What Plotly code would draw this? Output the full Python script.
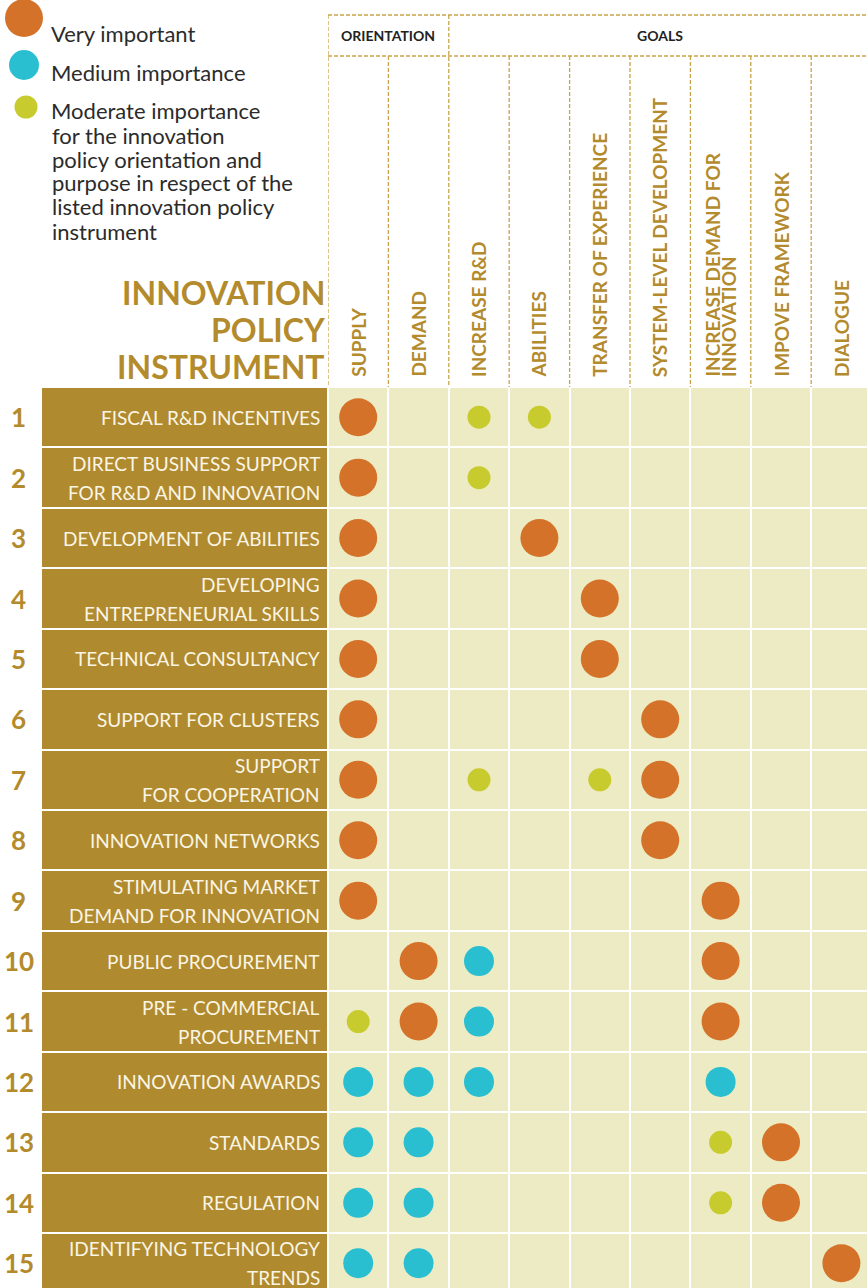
import plotly.graph_objects as go

# ---------------- data ----------------
instruments = [
    "FISCAL R&D INCENTIVES",
    "DIRECT BUSINESS SUPPORT\nFOR R&D AND INNOVATION",
    "DEVELOPMENT OF ABILITIES",
    "DEVELOPING\nENTREPRENEURIAL SKILLS",
    "TECHNICAL CONSULTANCY",
    "SUPPORT FOR CLUSTERS",
    "SUPPORT\nFOR COOPERATION",
    "INNOVATION NETWORKS",
    "STIMULATING MARKET\nDEMAND FOR INNOVATION",
    "PUBLIC PROCUREMENT",
    "PRE - COMMERCIAL\nPROCUREMENT",
    "INNOVATION AWARDS",
    "STANDARDS",
    "REGULATION",
    "IDENTIFYING TECHNOLOGY\nTRENDS",
]
columns = [
    "SUPPLY", "DEMAND", "INCREASE R&D", "ABILITIES", "TRANSFER OF EXPERIENCE",
    "SYSTEM-LEVEL DEVELOPMENT", "INCREASE DEMAND FOR\nINNOVATION",
    "IMPOVE FRAMEWORK", "DIALOGUE",
]
groups = ["ORIENTATION", "GOALS"]
# 3 = very important, 2 = medium importance, 1 = moderate importance, 0 = none
importance = [
    [3, 0, 1, 1, 0, 0, 0, 0, 0],
    [3, 0, 1, 0, 0, 0, 0, 0, 0],
    [3, 0, 0, 3, 0, 0, 0, 0, 0],
    [3, 0, 0, 0, 3, 0, 0, 0, 0],
    [3, 0, 0, 0, 3, 0, 0, 0, 0],
    [3, 0, 0, 0, 0, 3, 0, 0, 0],
    [3, 0, 1, 0, 1, 3, 0, 0, 0],
    [3, 0, 0, 0, 0, 3, 0, 0, 0],
    [3, 0, 0, 0, 0, 0, 3, 0, 0],
    [0, 3, 2, 0, 0, 0, 3, 0, 0],
    [1, 3, 2, 0, 0, 0, 3, 0, 0],
    [2, 2, 2, 0, 0, 0, 2, 0, 0],
    [2, 2, 0, 0, 0, 0, 1, 3, 0],
    [2, 2, 0, 0, 0, 0, 1, 3, 0],
    [2, 2, 0, 0, 0, 0, 0, 0, 3],
]
legend_labels = {
    3: ["Very important"],
    2: ["Medium importance"],
    1: ["Moderate importance", "for the innovation", "policy orientation and",
        "purpose in respect of the", "listed innovation policy", "instrument"],
}
title_lines = ["INNOVATION", "POLICY", "INSTRUMENT"]

# ---------------- styles ----------------
W, H = 867, 1288
ORANGE, CYAN, LIME = "#D4722A", "#29BFD1", "#C8CB2E"
BROWN, GOLD, CREAM = "#B08A2E", "#B38B2D", "#EDEBC3"
DASHC = "#C9A44A"
level_color = {3: ORANGE, 2: CYAN, 1: LIME}
level_size = {3: 38, 2: 30, 1: 23}
FONT = "Lato, 'Open Sans', sans-serif"

GRID_LEFT, COL_W = 328, 60.4
ROW_TOP, ROW_H = 387, 60.43
HEAD_TOP, HEAD_MID = 15, 56


def fx(p):
    return p / W


def fy(p):
    return 1 - p / H


nrows, ncols = len(instruments), len(columns)
rows = list(range(nrows))
cols = list(range(ncols))

fig = go.Figure()

# cream grid cells
fig.add_trace(go.Heatmap(
    x=cols, y=rows, z=[[1] * ncols for _ in rows],
    colorscale=[[0, CREAM], [1, CREAM]], showscale=False,
    xgap=2, ygap=2, hoverinfo="skip", xaxis="x", yaxis="y"))

# brown label panel
fig.add_trace(go.Heatmap(
    x=[0.5], y=rows, z=[[1] for _ in rows],
    colorscale=[[0, BROWN], [1, BROWN]], showscale=False,
    xgap=0, ygap=2, hoverinfo="skip", xaxis="x2", yaxis="y"))

# importance dots
for lvl in (3, 2, 1):
    xs, ys = [], []
    for r in rows:
        for c in cols:
            if importance[r][c] == lvl:
                xs.append(c)
                ys.append(r)
    fig.add_trace(go.Scatter(
        x=xs, y=ys, mode="markers", xaxis="x", yaxis="y",
        marker=dict(size=level_size[lvl], color=level_color[lvl], line=dict(width=0)),
        hoverinfo="skip", showlegend=False))

annotations = []
shapes = []

# row numbers and labels
for r in rows:
    annotations.append(dict(
        x=fx(18.5), y=r, xref="paper", yref="y", text=f"<b>{r + 1}</b>",
        showarrow=False, xanchor="center", yanchor="middle",
        font=dict(family=FONT, size=26, color=GOLD)))
    lines = instruments[r].split("\n")
    shifts = [0] if len(lines) == 1 else [14.5, -14.5]
    for ln, sh in zip(lines, shifts):
        annotations.append(dict(
            x=fx(321.5), y=r, xref="paper", yref="y", text=ln, yshift=sh,
            showarrow=False, xanchor="right", yanchor="middle",
            font=dict(family=FONT, size=19, color="#FAF5E4")))

# column headers (vertical)
for c in cols:
    lines = columns[c].split("\n")
    shifts = [0] if len(lines) == 1 else [-8, 8]
    for ln, sh in zip(lines, shifts):
        annotations.append(dict(
            x=c, y=fy(379), xref="x", yref="paper", text=ln, xshift=sh,
            textangle=-90, showarrow=False, xanchor="center", yanchor="bottom",
            font=dict(family=FONT, size=19, color=GOLD, weight="bold")))

# group headers
annotations.append(dict(
    x=0.5, y=fy(35), xref="x", yref="paper", text=f"<b>{groups[0]}</b>",
    showarrow=False, xanchor="center", yanchor="middle",
    font=dict(family=FONT, size=14, color="#222222")))
annotations.append(dict(
    x=5, y=fy(35), xref="x", yref="paper", text=f"<b>{groups[1]}</b>",
    showarrow=False, xanchor="center", yanchor="middle",
    font=dict(family=FONT, size=14, color="#222222")))

# title
for i, t in enumerate(title_lines):
    annotations.append(dict(
        x=fx(327), y=fy(292 + 37 * i), xref="paper", yref="paper",
        text=f"<b>{t}</b>", showarrow=False, xanchor="right", yanchor="middle",
        font=dict(family=FONT, size=32, color=GOLD)))

# legend
legend_pos = {3: (24, 18, 33), 2: (24, 65, 72), 1: (26, 107, 111)}
for lvl in (3, 2, 1):
    cx, cy, ty = legend_pos[lvl]
    rr = level_size[lvl] / 2
    shapes.append(dict(
        type="circle", xref="paper", yref="paper",
        x0=fx(cx - rr), x1=fx(cx + rr), y0=fy(cy + rr), y1=fy(cy - rr),
        fillcolor=level_color[lvl], line=dict(width=0), layer="above"))
    for k, ln in enumerate(legend_labels[lvl]):
        annotations.append(dict(
            x=fx(48.5 if k == 0 else 49.5), y=fy(ty + 24 * k), xref="paper", yref="paper",
            text=ln, showarrow=False, xanchor="left", yanchor="middle",
            font=dict(family=FONT, size=22, color="#2B2B2B")))

# dashed header lines
dash = dict(color=DASHC, width=1.3, dash="4px,2px")
shapes.append(dict(type="line", xref="x", yref="paper", x0=-0.5, x1=8.45,
                   y0=fy(HEAD_TOP), y1=fy(HEAD_TOP), line=dash))
shapes.append(dict(type="line", xref="x", yref="paper", x0=-0.5, x1=8.45,
                   y0=fy(HEAD_MID), y1=fy(HEAD_MID), line=dash))
for c in range(ncols):
    top = HEAD_TOP if c in (0, 2) else HEAD_MID
    shapes.append(dict(type="line", xref="x", yref="paper", x0=c - 0.5, x1=c - 0.5,
                       y0=fy(top), y1=fy(ROW_TOP), line=dash))

fig.update_layout(
    width=W, height=H, margin=dict(l=0, r=0, t=0, b=0),
    paper_bgcolor="white", plot_bgcolor="white",
    showlegend=False,
    xaxis=dict(domain=[fx(GRID_LEFT), 1], range=[-0.5, -0.5 + (W - GRID_LEFT) / COL_W],
               visible=False, fixedrange=True),
    xaxis2=dict(domain=[fx(42), fx(327)], range=[0, 1], anchor="y",
                visible=False, fixedrange=True),
    yaxis=dict(domain=[0, fy(ROW_TOP)], range=[-0.5 + (H - ROW_TOP) / ROW_H, -0.5],
               visible=False, fixedrange=True),
    annotations=annotations, shapes=shapes,
)

fig.write_html("out.html", config={"displayModeBar": False},
               post_script="document.body.style.margin='0';document.body.style.overflow='hidden';")
